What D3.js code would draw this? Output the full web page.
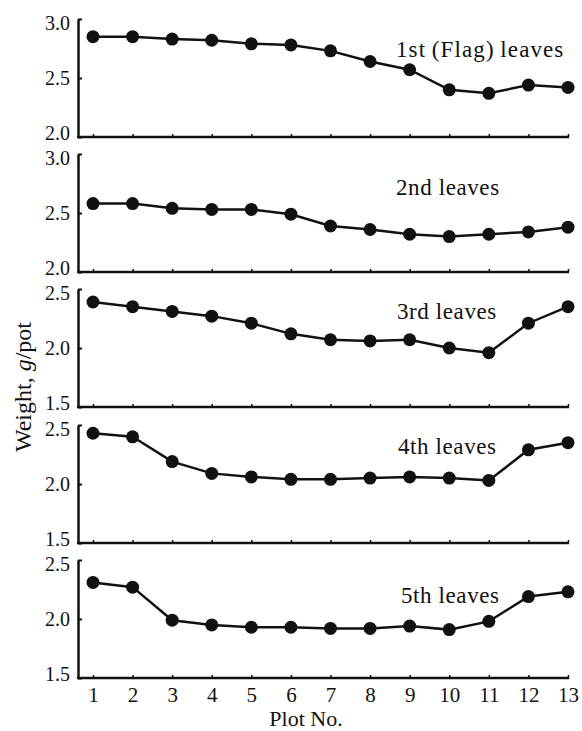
<!DOCTYPE html>
<html>
<head>
<meta charset="utf-8">
<script src="https://cdn.jsdelivr.net/npm/d3@7"></script>
<style>
  body { margin: 0; background: #fff; }
  text { font-family: "Liberation Serif", "DejaVu Serif", serif; fill: #111; }
</style>
</head>
<body>
<svg id="canvas" width="582" height="731"></svg>
<script>
// data
let plots = [1, 2, 3, 4, 5, 6, 7, 8, 9, 10, 11, 12, 13]
let leafNames = ['1st\u2009(Flag)\u2009leaves', '2nd leaves', '3rd leaves', '4th leaves', '5th leaves']
let leaf1 = [2.85, 2.85, 2.83, 2.82, 2.79, 2.78, 2.73, 2.64, 2.57, 2.40, 2.37, 2.44, 2.42]
let leaf2 = [2.58, 2.58, 2.54, 2.53, 2.53, 2.49, 2.39, 2.36, 2.32, 2.30, 2.32, 2.34, 2.38]
let leaf3 = [2.39, 2.35, 2.31, 2.27, 2.21, 2.12, 2.07, 2.06, 2.07, 2.00, 1.96, 2.21, 2.35]
let leaf4 = [2.43, 2.40, 2.19, 2.09, 2.06, 2.04, 2.04, 2.05, 2.06, 2.05, 2.03, 2.29, 2.35]
let leaf5 = [2.31, 2.27, 1.99, 1.95, 1.93, 1.93, 1.92, 1.92, 1.94, 1.91, 1.98, 2.19, 2.23]
let yDomains = [[2.0, 3.0], [2.0, 3.0], [1.5, 2.5], [1.5, 2.5], [1.5, 2.5]]
let yTicks = [[2.0, 2.5, 3.0], [2.0, 2.5, 3.0], [1.5, 2.0, 2.5], [1.5, 2.0, 2.5], [1.5, 2.0, 2.5]]

let series = [leaf1, leaf2, leaf3, leaf4, leaf5]

let canvas = d3.select('#canvas')

let axisX = 78
let panelH = 118
let panelTops = [19, 154, 289, 425, 560]
let labelPos = [[396, 57], [396, 195], [397, 319], [398, 454], [401, 603]]

let x = d3.scaleLinear().domain([1, 13]).range([93, 568])

series.forEach((values, i) => {
    let top = panelTops[i]
    let bottom = top + panelH
    let y = d3.scaleLinear().domain(yDomains[i]).range([bottom, top])

    let g = canvas.append('g')

    // y axis
    let yAxis = d3.axisLeft(y)
        .tickValues(yTicks[i])
        .tickFormat(d3.format('.1f'))
        .tickSizeInner(-4)
        .tickSizeOuter(0)
        .tickPadding(8)
    let ya = g.append('g')
        .attr('transform', 'translate(' + axisX + ',0)')
        .call(yAxis)
    ya.select('.domain').attr('stroke', '#111').attr('stroke-width', 2.5)
    ya.selectAll('.tick line').attr('stroke', '#111').attr('stroke-width', 2)
    // end labels nudged inward, as in the printed figure
    ya.selectAll('.tick text')
        .style('font-size', '20px')
        .attr('y', (d) => d === yDomains[i][0] ? -4 : (d === yDomains[i][1] ? 4 : 0))
        .attr('fill', '#111')

    // x axis
    let xAxis = d3.axisBottom(x)
        .tickValues(plots)
        .tickSize(-3)
        .tickPadding(9)
        .tickFormat(i === 4 ? d3.format('d') : '')
    let xa = g.append('g')
        .attr('transform', 'translate(0,' + bottom + ')')
        .call(xAxis)
    xa.select('.domain').remove()
    xa.selectAll('.tick line').attr('stroke', '#111').attr('stroke-width', 1.5)
    xa.selectAll('.tick text')
        .style('font-size', '21px')
        .attr('fill', '#111')
    g.append('line')
        .attr('x1', axisX - 1)
        .attr('x2', x(13) + 1)
        .attr('y1', bottom)
        .attr('y2', bottom)
        .attr('stroke', '#111')
        .attr('stroke-width', 2.5)

    // data line
    let line = d3.line()
        .x((d, k) => x(plots[k]))
        .y((d) => y(d))
    g.append('path')
        .datum(values)
        .attr('d', line)
        .attr('fill', 'none')
        .attr('stroke', '#111')
        .attr('stroke-width', 2.5)

    g.selectAll('circle')
        .data(values)
        .enter()
        .append('circle')
        .attr('cx', (d, k) => x(plots[k]))
        .attr('cy', (d) => y(d))
        .attr('r', 6.5)
        .attr('fill', '#111')

    // panel label
    g.append('text')
        .attr('x', labelPos[i][0])
        .attr('y', labelPos[i][1])
        .style('font-size', '23px')
        .attr('letter-spacing', i === 0 ? '1.1px' : '0.6px')
        .text(leafNames[i])
})

// axis titles
canvas.append('text')
    .attr('x', 306)
    .attr('y', 726)
    .attr('text-anchor', 'middle')
    .style('font-size', '22px')
    .text('Plot No.')

let yTitle = canvas.append('text')
    .attr('transform', 'translate(31,387) rotate(-90)')
    .attr('text-anchor', 'middle')
    .style('font-size', '24px')
yTitle.append('tspan').text('Weight, ')
yTitle.append('tspan').style('font-style', 'italic').text('g')
yTitle.append('tspan').text('/pot')
</script>
</body>
</html>
